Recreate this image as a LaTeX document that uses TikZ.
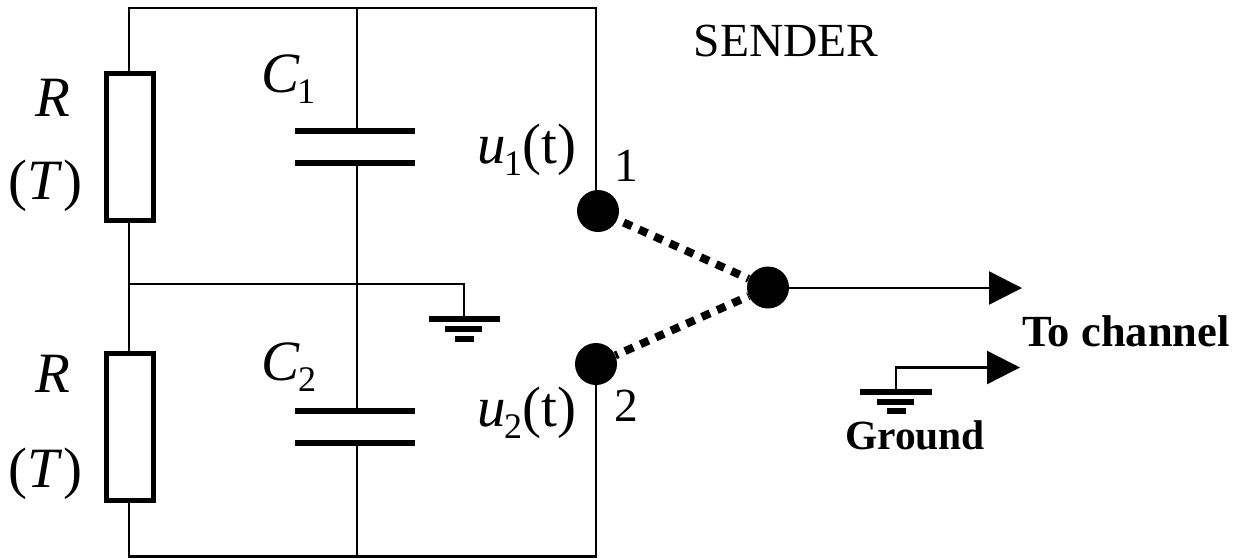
\documentclass[tikz,border=0pt]{standalone}
\usepackage{fontspec}
\setmainfont{Liberation Serif}
\usetikzlibrary{arrows.meta}
\begin{document}
\begin{tikzpicture}[x=1pt,y=-1pt,
wire/.style={line width=2.3pt},
platebar/.style={line width=6pt},
resbox/.style={draw,line width=5.3pt,fill=white,minimum width=46.7pt,minimum height=146.7pt,inner sep=0pt},
dot/.style={circle,fill=black,minimum size=42pt,inner sep=0pt},
sw/.style={line width=8pt},
txt/.style={inner sep=0pt,font=\fontsize{57pt}{57pt}\selectfont},
sub/.style={inner sep=0pt,font=\fontsize{36pt}{36pt}\selectfont},
lab/.style={inner sep=0pt,font=\fontsize{47.5pt}{47.5pt}\selectfont},
tip/.style={-{Triangle[length=33pt,width=33pt]}}]
\useasboundingbox (0,0) rectangle (1244,558);
\coordinate (tl) at (129,8); \coordinate (tm) at (357,8); \coordinate (tr) at (596,8);
\coordinate (bl) at (129,556.5); \coordinate (bm) at (357,556.5); \coordinate (br) at (596,556.5);
\coordinate (ml) at (129,284); \coordinate (mm) at (357,284);
\coordinate (gt) at (464,284);
\coordinate (p1) at (357,131); \coordinate (p2) at (357,163);
\coordinate (p3) at (357,411); \coordinate (p4) at (357,443);
\coordinate (g1) at (464,319);
\node[dot] (d1) at (598,211) {};
\node[dot] (d2) at (596,364) {};
\node[dot] (d3) at (768,287.5) {};
\draw[wire] (tr |- d1) -- (tr) -- (tl) -- (bl) -- (br) -- (tr |- d2);
\draw[wire] (tm) -- (p1);
\draw[wire] (p2) -- (p3);
\draw[wire] (p4) -- (bm);
\draw[wire] (ml) -- (gt) -- (g1);
\node[resbox] (r1) at (130,147) {};
\node[resbox] (r2) at (130,427) {};
\draw[platebar] (295,131) -- (415,131);
\draw[platebar] (295,163) -- (415,163);
\draw[platebar] (295,411) -- (415,411);
\draw[platebar] (295,443) -- (415,443);
\draw[platebar] (429,319) -- (500,319);
\draw[platebar] (445,329) -- (482,329);
\draw[platebar] (455,339) -- (474,339);
\draw[sw,dash pattern=on 9pt off 7.9pt,dash phase=10pt] (d1) -- (d3);
\draw[sw,dash pattern=on 9pt off 7.8pt,dash phase=6.2pt] (d2) -- (d3);
\coordinate (a1) at (1022,288); \coordinate (a2) at (1020,367.5);
\draw[wire,tip] (d3.center |- a1) -- (a1);
\coordinate (g2) at (896,391);
\draw[wire,tip] (g2) -- (896,367.5) -- (a2);
\draw[platebar] (860,391.5) -- (932,391.5);
\draw[platebar] (877,401.5) -- (914,401.5);
\draw[platebar] (887,411) -- (906,411);
\node[txt,anchor=base] (R1) at (53,116) {\itshape R};
\node[txt,anchor=base] (T1) at (45.5,199) {(\textit{T})};
\node[txt,anchor=base] (R2) at (53,392) {\itshape R};
\node[txt,anchor=base] (T2) at (45.5,487.5) {(\textit{T})};
\node[txt,anchor=base west] (C1) at (261,92.5) {\itshape C};
\node[sub,anchor=base west] (c1s) at (297,103) {1};
\node[txt,anchor=base west] (C2) at (261,380) {\itshape C};
\node[sub,anchor=base west] (c2s) at (298,391) {2};
\node[txt,anchor=base west] (u1) at (477,163.5) {\textit{u}};
\node[sub,anchor=base west] (u1s) at (504,175) {1};
\node[txt,anchor=base west] (u1t) at (522,163.5) {(t)};
\node[txt,anchor=base west] (u2) at (477,426.5) {\textit{u}};
\node[sub,anchor=base west] (u2s) at (504,438) {2};
\node[txt,anchor=base west] (u2t) at (522,426.5) {(t)};
\node[lab,anchor=base] (n1) at (626,181.5) {1};
\node[lab,anchor=base] (n2) at (626,421.5) {2};
\node[lab,anchor=base] (snd) at (786,56) {SENDER};
\node[inner sep=0pt,anchor=base,font=\fontsize{44.5pt}{44.5pt}\selectfont\bfseries] (tc) at (1126,346.5) {To channel};
\node[inner sep=0pt,anchor=base,font=\fontsize{41.5pt}{41.5pt}\selectfont\bfseries] (gnd) at (915,449) {Ground};
\end{tikzpicture}
\end{document}
